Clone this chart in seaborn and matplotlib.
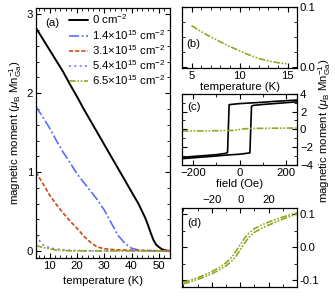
"""
磁矩-温度 / 磁滞回线 组合图
"""
import pandas as pd
import matplotlib.pyplot as plt
import seaborn as sns
from matplotlib.ticker import MultipleLocator

# 数据
temp_a = [5, 7.5, 10, 12.5, 15, 17.5, 20, 22.5, 25, 27.5, 30, 32.5, 35, 37.5,
          40, 42.5, 45, 46, 47, 48, 49, 50, 51, 52, 53, 54]
m_0 = [2.83, 2.69, 2.55, 2.41, 2.27, 2.11, 1.96, 1.80, 1.65, 1.50, 1.35, 1.20, 1.05, 0.90,
       0.75, 0.60, 0.42, 0.33, 0.23, 0.14, 0.08, 0.05, 0.025, 0.012, 0.005, 0.002]
m_14 = [1.83, 1.70, 1.56, 1.40, 1.25, 1.12, 0.98, 0.87, 0.76, 0.65, 0.52, 0.36, 0.20, 0.10,
        0.035, 0.012, 0.006, 0.005, 0.004, 0.004, 0.003, 0.003, 0.002, 0.002, 0.001, 0.001]
m_31 = [1.00, 0.86, 0.71, 0.59, 0.48, 0.38, 0.29, 0.19, 0.11, 0.05, 0.03, 0.02, 0.015, 0.012,
        0.010, 0.008, 0.006, 0.005, 0.005, 0.004, 0.004, 0.003, 0.003, 0.002, 0.002, 0.001]
m_54 = [0.19, 0.08, 0.04, 0.025, 0.015, 0.010, 0.006, 0.004, 0.003, 0.002, 0.002, 0.001, 0.001, 0.001,
        0.001, 0.001, 0.001, 0.001, 0.001, 0.0, 0.0, 0.0, 0.0, 0.0, 0.0, 0.0]
m_65 = [0.069, 0.046, 0.027, 0.012, 0.005, 0.003, 0.002, 0.001, 0.001, 0.001, 0.001, 0.001, 0.001, 0.001,
        0.001, 0.001, 0.001, 0.001, 0.0, 0.0, 0.0, 0.0, 0.0, 0.0, 0.0, 0.0]

temp_b = [5, 6, 7, 8, 9, 10, 11, 12, 13, 14, 15]
m_b = [0.069, 0.059, 0.050, 0.042, 0.034, 0.027, 0.020, 0.014, 0.010, 0.007, 0.005]

# (c) 磁滞回线
h_up = [-250, -200, -150, -100, -60, 0, 45, 52, 60, 100, 150, 200, 250]
m_up = [-3.3, -3.2, -3.1, -3.0, -2.9, -2.8, -2.65, 2.6, 2.7, 2.8, 2.9, 3.0, 3.1]
h_down = [250, 200, 150, 100, 0, -45, -52, -60, -100, -150, -200, -250]
m_down = [3.3, 3.22, 3.15, 3.05, 2.9, 2.78, -2.6, -2.7, -2.85, -2.95, -3.05, -3.15]
h_c65 = [-250, -150, -50, -20, 0, 20, 50, 150, 250]
m_c65 = [-0.19, -0.17, -0.14, -0.1, -0.02, 0.06, 0.1, 0.13, 0.15]

# (d) 6.5e15 回线放大
h_d = [-40, -35, -30, -25, -20, -15, -10, -6, -3, 0, 3, 6, 10, 15, 20, 25, 30, 35, 40]
m_d_hi = [-0.105, -0.099, -0.092, -0.083, -0.073, -0.062, -0.047, -0.030, -0.012, 0.008,
          0.027, 0.042, 0.056, 0.067, 0.076, 0.084, 0.091, 0.098, 0.104]
m_d_lo = [-0.110, -0.104, -0.097, -0.089, -0.080, -0.069, -0.056, -0.042, -0.027, -0.008,
          0.012, 0.030, 0.045, 0.057, 0.067, 0.076, 0.085, 0.093, 0.100]

labels = ['0 cm$^{-2}$', '1.4$\\times$10$^{15}$ cm$^{-2}$', '3.1$\\times$10$^{15}$ cm$^{-2}$',
          '5.4$\\times$10$^{15}$ cm$^{-2}$', '6.5$\\times$10$^{15}$ cm$^{-2}$']
colors = ['black', '#5b6cff', '#cc4a12', '#8470f0', '#8fa820']
dash_list = [None, (6, 1.5, 1.2, 1.5), (2.5, 1.2), (1.2, 2.0), (4, 1, 1, 1, 1, 1)]

FS = 8.2
sns.set_theme(style='ticks')
plt.rcParams['font.family'] = ['Liberation Sans', 'DejaVu Sans']
plt.rcParams['mathtext.fontset'] = 'custom'
plt.rcParams['mathtext.rm'] = 'Liberation Sans'
plt.rcParams['mathtext.it'] = 'Liberation Sans:italic'
plt.rcParams['font.size'] = FS
plt.rcParams['axes.labelsize'] = FS
plt.rcParams['legend.fontsize'] = FS
plt.rcParams['text.color'] = 'black'
plt.rcParams['axes.labelcolor'] = 'black'
plt.rcParams['axes.edgecolor'] = 'black'
for k in ['xtick', 'ytick']:
    plt.rcParams[k + '.direction'] = 'in'
    plt.rcParams[k + '.color'] = 'black'
    plt.rcParams[k + '.labelsize'] = FS
    plt.rcParams[k + '.major.size'] = 3.5
    plt.rcParams[k + '.minor.size'] = 2
    plt.rcParams[k + '.major.width'] = 0.8
    plt.rcParams[k + '.minor.width'] = 0.6
    plt.rcParams[k + '.major.pad'] = 2

fig = plt.figure(figsize=(3.35, 2.96), dpi=100)
ax_a = fig.add_axes([0.107, 0.128, 0.400, 0.845])
ax_b = fig.add_axes([0.543, 0.770, 0.344, 0.206])
ax_c = fig.add_axes([0.543, 0.443, 0.344, 0.240])
ax_d = fig.add_axes([0.543, 0.030, 0.344, 0.267])


def draw(ax, x, y, color, dashes, lw, label=None):
    sns.lineplot(x=x, y=y, color=color, lw=lw, ax=ax, sort=False, estimator=None, label=label, legend=False)
    if dashes is not None:
        ax.lines[-1].set_dashes(dashes)


# (a)
series = [m_0, m_14, m_31, m_54, m_65]
for vals, c, d, lab in zip(series, colors, dash_list, labels):
    draw(ax_a, temp_a, vals, c, d, 1.4 if c == 'black' else 1.2, lab)
ax_a.set_xlim(5, 54)
ax_a.set_ylim(-0.09, 3.08)
ax_a.set_xticks([10, 20, 30, 40, 50])
ax_a.set_yticks([0, 1, 2, 3])
ax_a.xaxis.set_minor_locator(MultipleLocator(2))
ax_a.yaxis.set_minor_locator(MultipleLocator(0.2))
ax_a.set_xlabel('temperature (K)', labelpad=4)
ax_a.set_ylabel('magnetic moment ($\\mu_\\mathrm{B}$ Mn$_\\mathrm{Ga}^{-1}$)', labelpad=2)
ax_a.text(0.07, 0.94, '(a)', transform=ax_a.transAxes, va='center')
ax_a.legend(loc='upper right', frameon=False, handlelength=1.65,
            handletextpad=0.35, labelspacing=0.12, borderaxespad=0.0, borderpad=0.4)

# (b)
draw(ax_b, temp_b, m_b, colors[4], dash_list[4], 1.2)
ax_b.set_xlim(4, 16)
ax_b.set_ylim(-0.002, 0.1)
ax_b.set_xticks([5, 10, 15])
ax_b.set_yticks([0.0, 0.1])
ax_b.yaxis.set_major_formatter(plt.FormatStrFormatter('%.1f'))
ax_b.xaxis.set_minor_locator(MultipleLocator(1))
ax_b.yaxis.set_minor_locator(MultipleLocator(0.025))
ax_b.set_xlabel('temperature (K)', labelpad=1)
ax_b.text(0.04, 0.4, '(b)', transform=ax_b.transAxes, va='center')

# (c)
draw(ax_c, h_up, m_up, 'black', None, 1.2)
draw(ax_c, h_down, m_down, 'black', None, 1.2)
draw(ax_c, h_c65, m_c65, colors[4], dash_list[4], 1.2)
ax_c.set_xlim(-250, 250)
ax_c.set_ylim(-4, 4)
ax_c.set_xticks([-200, 0, 200])
ax_c.set_yticks([-4, -2, 0, 2, 4])
ax_c.xaxis.set_minor_locator(MultipleLocator(100))
ax_c.yaxis.set_minor_locator(MultipleLocator(1))
ax_c.set_xlabel('field (Oe)', labelpad=1)
ax_c.text(0.05, 0.82, '(c)', transform=ax_c.transAxes, va='center')

# (d)
draw(ax_d, h_d, m_d_hi, colors[4], dash_list[4], 1.2)
draw(ax_d, h_d, m_d_lo, colors[4], dash_list[4], 1.2)
ax_d.set_xlim(-41, 40)
ax_d.set_ylim(-0.12, 0.118)
ax_d.set_xticks([-20, 0, 20])
ax_d.set_yticks([-0.1, 0.0, 0.1])
ax_d.yaxis.set_major_formatter(plt.FormatStrFormatter('%.1f'))
ax_d.xaxis.set_minor_locator(MultipleLocator(10))
ax_d.yaxis.set_minor_locator(MultipleLocator(0.05))
ax_d.text(0.05, 0.81, '(d)', transform=ax_d.transAxes, va='center')
ax_d.xaxis.tick_top()

for ax in [ax_a, ax_b, ax_c, ax_d]:
    ax.tick_params(which='both', top=True, right=True, bottom=True, left=True)
    for s in ax.spines.values():
        s.set_linewidth(0.9)
for ax in [ax_b, ax_c, ax_d]:
    ax.tick_params(axis='y', labelleft=False, labelright=True)
    ax.set_ylabel('')
ax_d.tick_params(axis='x', labeltop=True, labelbottom=False)

fig.text(0.995, 0.557, 'magnetic moment ($\\mu_\\mathrm{B}$ Mn$_\\mathrm{Ga}^{-1}$)',
         rotation=90, ha='right', va='center', fontsize=FS)

plt.savefig('out.png', dpi=100)
